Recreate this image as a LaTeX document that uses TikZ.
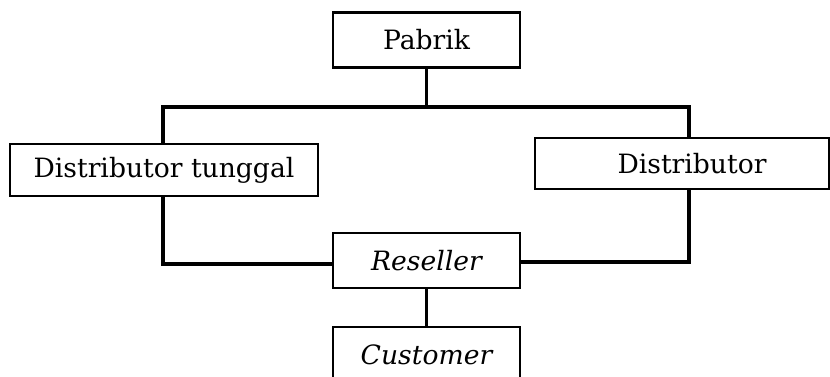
\documentclass[tikz,border=0pt]{standalone}
\usepackage{fontspec}
\setmainfont{DejaVu Serif}
\begin{document}
\begin{tikzpicture}[x=0.5pt,y=-0.5pt,
  box/.style={draw,line width=1.2pt,rectangle,inner sep=0pt,font=\fontsize{13.3}{16}\selectfont},
  conn/.style={line width=1.7pt}]
\useasboundingbox (0,0) rectangle (830,376);
\node[box,minimum width=93.5pt,minimum height=27.5pt] (pab) at (426.5,40) {Pabrik};
\node[box,minimum width=154pt,minimum height=26pt] (dt) at (164,170) {Distributor tunggal};
\node[box,minimum width=147pt,minimum height=25.5pt] (dist) at (682,163.5) {\hspace{10pt}Distributor};
\node[box,minimum width=93.5pt,minimum height=27.5pt] (res) at (426.5,260.5) {\itshape Reseller};
\node[box,minimum width=93.5pt,minimum height=27.5pt] (cus) at (426.5,354.5) {\itshape Customer};
\coordinate (tl) at (163,107);
\coordinate (tr) at (689,107);
\coordinate (bl) at (163,264);
\coordinate (br) at (689,262);
\draw[conn] (pab.south) -- (pab.south|-tl);
\draw[conn] (tl|-dt.north) -- (tl) -- (tr) -- (tr|-dist.north);
\draw[conn] (tl|-dt.south) -- (bl) -- (bl-|res.west);
\draw[conn] (tr|-dist.south) -- (br) -- (br-|res.east);
\draw[conn] (res.south) -- (cus.north);
\end{tikzpicture}
\end{document}
